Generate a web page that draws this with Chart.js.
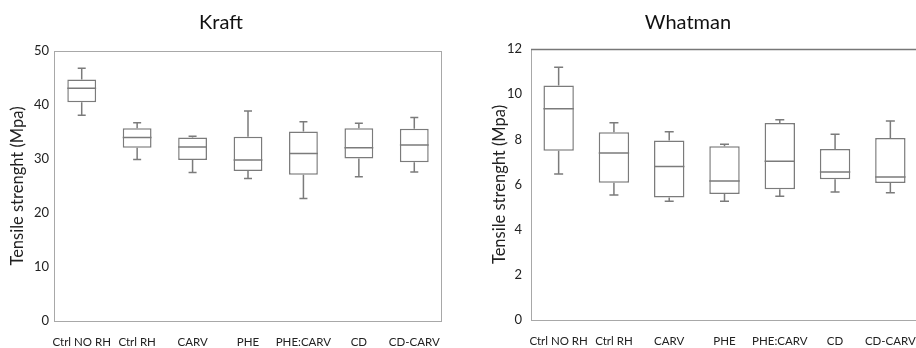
<!DOCTYPE html>
<html>
<head>
<meta charset="utf-8">
<script src="https://cdn.jsdelivr.net/npm/chart.js@4.4.1/dist/chart.umd.min.js"></script>
<style>
  html, body { margin: 0; padding: 0; background: #fff; overflow: hidden; }
  .wrap { position: absolute; top: 0; height: 348px; }
  #kraftWrap { left: 0; width: 458px; }
  #whatmanWrap { left: 458px; width: 526px; }
</style>
</head>
<body>
<div class="wrap" id="kraftWrap"><canvas id="kraftChart" width="458" height="348"></canvas></div>
<div class="wrap" id="whatmanWrap"><canvas id="whatmanChart" width="526" height="348"></canvas></div>
<script>
// ── data ──
const categories = ['Ctrl NO RH', 'Ctrl RH', 'CARV', 'PHE', 'PHE:CARV', 'CD', 'CD-CARV'];

const kraftMin = [38.1, 29.9, 27.5, 26.4, 22.7, 26.7, 27.6];
const kraftQ1  = [40.5, 32.1, 29.8, 27.8, 27.1, 30.1, 29.4];
const kraftMed = [43.1, 34.0, 32.2, 29.8, 31.0, 32.1, 32.6];
const kraftQ3  = [44.7, 35.7, 34.0, 34.1, 35.1, 35.7, 35.6];
const kraftMax = [46.8, 36.7, 34.2, 38.9, 36.9, 36.6, 37.7];
const kraftTicks = [0, 10, 20, 30, 40, 50];

const whatmanMin = [6.47, 5.54, 5.26, 5.26, 5.48, 5.67, 5.64];
const whatmanQ1  = [7.50, 6.08, 5.42, 5.58, 5.79, 6.23, 6.07];
const whatmanMed = [9.35, 7.39, 6.80, 6.16, 7.03, 6.55, 6.33];
const whatmanQ3  = [10.38, 8.31, 7.95, 7.69, 8.72, 7.57, 8.06];
const whatmanMax = [11.19, 8.73, 8.34, 7.78, 8.87, 8.23, 8.81];
const whatmanTicks = [0, 2, 4, 6, 8, 10, 12];

const yTitle = 'Tensile strenght (Mpa)';

Chart.defaults.font.family = 'Lato, "Open Sans", sans-serif';
Chart.defaults.color = '#222';

// whiskers + median drawn on top of the floating bars
const boxWhiskers = {
    id: 'boxWhiskers',
    afterDatasetsDraw(chart, args, opts) {
        const ctx = chart.ctx;
        const y = chart.scales.y;
        const meta = chart.getDatasetMeta(0);
        ctx.save();
        ctx.strokeStyle = '#7b7b7b';
        ctx.lineWidth = 1.5;
        meta.data.forEach((bar, i) => {
            const x = bar.x, hw = bar.width / 2, cap = opts.cap;
            const yMin = y.getPixelForValue(opts.min[i]);
            const yQ1  = y.getPixelForValue(opts.q1[i]);
            const yMed = y.getPixelForValue(opts.med[i]);
            const yQ3  = y.getPixelForValue(opts.q3[i]);
            const yMax = y.getPixelForValue(opts.max[i]);
            ctx.beginPath();
            // median
            ctx.moveTo(x - hw, yMed); ctx.lineTo(x + hw, yMed);
            // upper whisker
            ctx.moveTo(x, yQ3); ctx.lineTo(x, yMax);
            ctx.moveTo(x - cap, yMax); ctx.lineTo(x + cap, yMax);
            // lower whisker
            ctx.moveTo(x, yQ1); ctx.lineTo(x, yMin);
            ctx.moveTo(x - cap, yMin); ctx.lineTo(x + cap, yMin);
            ctx.stroke();
        });
        ctx.restore();
    }
};

const plotFrame = {
    id: 'plotFrame',
    beforeDatasetsDraw(chart, args, opts) {
        const { left, right, top, bottom } = chart.chartArea;
        const ctx = chart.ctx;
        ctx.save();
        ctx.lineWidth = 1;
        ctx.strokeStyle = opts.side;
        ctx.beginPath();
        ctx.moveTo(left + 0.5, top); ctx.lineTo(left + 0.5, bottom);
        ctx.moveTo(left, bottom + 0.5); ctx.lineTo(right, bottom + 0.5);
        ctx.moveTo(right - 0.5, top); ctx.lineTo(right - 0.5, bottom);
        ctx.stroke();
        ctx.strokeStyle = opts.top;
        ctx.lineWidth = opts.topWidth;
        ctx.beginPath();
        ctx.moveTo(left, top + 0.5); ctx.lineTo(right, top + 0.5);
        ctx.stroke();
        ctx.restore();
    }
};

function makeBoxChart(id, title, stats, ticks, L) {
    return new Chart(document.getElementById(id), {
        type: 'bar',
        data: {
            labels: categories,
            datasets: [{
                data: categories.map((c, i) => [stats.q1[i], stats.q3[i]]),
                backgroundColor: '#ffffff',
                borderColor: '#7b7b7b',
                borderWidth: 1.5,
                borderSkipped: false,
                barPercentage: L.barPct,
                categoryPercentage: 1
            }]
        },
        options: {
            responsive: false,
            animation: false,
            layout: { padding: { left: 0, right: L.padRight, top: 0, bottom: 0 } },
            plugins: {
                legend: { display: false },
                tooltip: { enabled: false },
                title: {
                    display: true, text: title,
                    font: { size: 20, weight: 'normal' }, color: '#111',
                    padding: { top: 11, bottom: L.titleBottom }
                },
                boxWhiskers: Object.assign({ cap: L.cap }, stats),
                plotFrame: { side: '#a8a8a8', top: L.topColor, topWidth: L.topWidth }
            },
            scales: {
                x: {
                    grid: { display: false, drawTicks: false },
                    border: { display: false },
                    ticks: { font: { size: 11.5 }, color: '#222', padding: 14, maxRotation: 0, autoSkip: false },
                    afterFit: s => { s.height = 348 - L.bottom; }
                },
                y: {
                    min: ticks[0], max: ticks[ticks.length - 1],
                    afterBuildTicks: s => { s.ticks = ticks.map(v => ({ value: v })); },
                    grid: { display: false, drawTicks: false },
                    border: { display: false },
                    ticks: { font: { size: 13 }, color: '#222', padding: L.tickPad },
                    title: {
                        display: true, text: yTitle,
                        font: { size: 16.5 }, color: '#222',
                        padding: { top: L.titlePad, bottom: 0 }
                    },
                    afterFit: s => { s.width = L.left; }
                }
            }
        },
        plugins: [plotFrame, boxWhiskers]
    });
}

makeBoxChart('kraftChart', 'Kraft',
    { min: kraftMin, q1: kraftQ1, med: kraftMed, q3: kraftQ3, max: kraftMax },
    kraftTicks,
    { left: 54, padRight: 16, bottom: 321, titleBottom: 16, tickPad: 5, titlePad: 8,
      barPct: 0.52, cap: 4, topColor: '#a8a8a8', topWidth: 1 });

makeBoxChart('whatmanChart', 'Whatman',
    { min: whatmanMin, q1: whatmanQ1, med: whatmanMed, q3: whatmanQ3, max: whatmanMax },
    whatmanTicks,
    { left: 73, padRight: 66, bottom: 320, titleBottom: 14, tickPad: 9, titlePad: 32,
      barPct: 0.55, cap: 4.5, topColor: '#777', topWidth: 1.5 });
</script>
</body>
</html>
